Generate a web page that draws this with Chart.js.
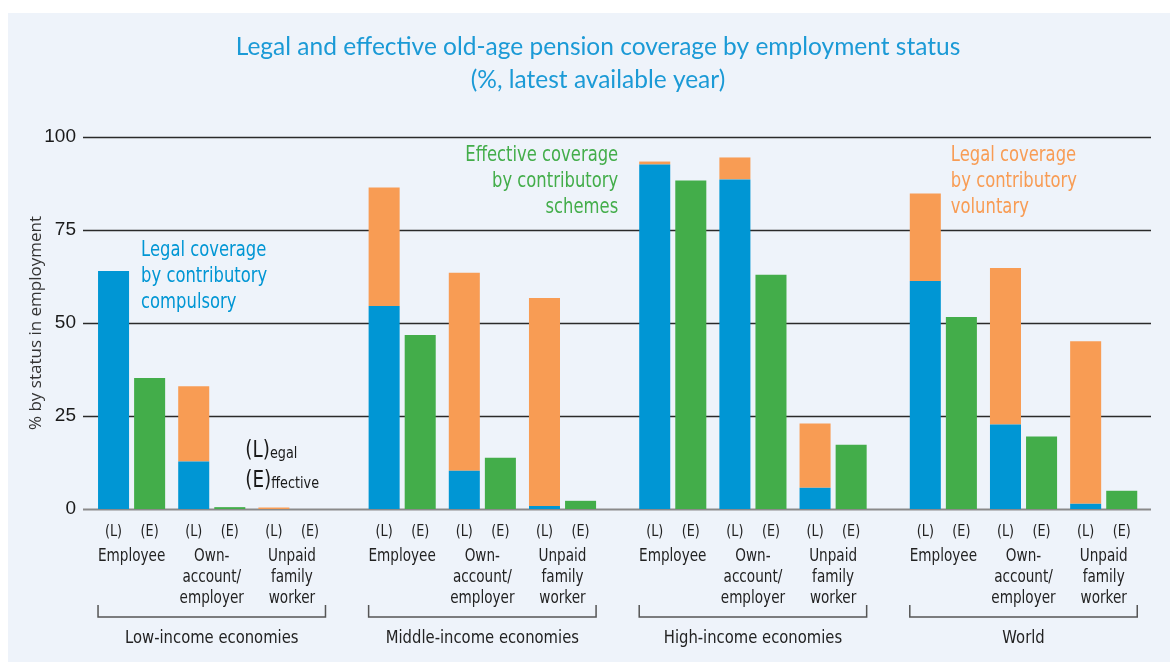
<!DOCTYPE html>
<html>
<head>
<meta charset="utf-8">
<script src="https://cdn.jsdelivr.net/npm/chart.js@4/dist/chart.umd.min.js"></script>
<style>
  html, body { margin: 0; padding: 0; background: #fff; }
  #wrap { width: 1170px; height: 662px; }
</style>
</head>
<body>
<div id="wrap"><canvas id="chart" width="1170" height="662"></canvas></div>
<script>
// categories
const TITLE = ['Legal and effective old-age pension coverage by employment status', '(%, latest available year)']
const GROUPS = ['Low-income economies', 'Middle-income economies', 'High-income economies', 'World']
const STATUSES = [['Employee'], ['Own-', 'account/', 'employer'], ['Unpaid', 'family', 'worker']]
const Y_TICKS = [0, 25, 50, 75, 100]

// values, % (order: group x status, Employee / Own-account / Unpaid)
const legalCompulsory = [64, 12.8, 0, 54.6, 10.3, 0.8, 92.6, 88.6, 5.7, 61.3, 22.7, 1.4]
const legalVoluntary = [0, 20.2, 0.4, 31.8, 53.2, 55.9, 0.8, 5.9, 17.3, 23.5, 42.1, 43.7]
const effective = [35.2, 0.5, 0, 46.8, 13.8, 2.2, 88.3, 63.0, 17.3, 51.6, 19.5, 4.9]

// colours and fonts
const BLUE = '#0096d4'
const ORANGE = '#f89c54'
const GREEN = '#43ad4a'
const PANEL = '#eef3fa'
const COND = "'DejaVu Sans', sans-serif"

// a group takes 3 status slots plus a gap
const GROUP_STEP = 3.375
const slotX = i => Math.floor(i / 3) * GROUP_STEP + (i % 3)
const toPoints = arr => arr.map((v, i) => ({ x: slotX(i), y: v }))

// condensed text: squeeze horizontally around the anchor
function condText(ctx, text, x, y, squeeze) {
  ctx.save()
  ctx.translate(x, y)
  ctx.scale(squeeze, 1)
  ctx.fillText(text, 0, 0)
  ctx.restore()
}

const panelPlugin = {
  id: 'panel',
  beforeDraw(chart) {
    const ctx = chart.ctx
    ctx.save()
    ctx.fillStyle = '#fff'
    ctx.fillRect(0, 0, chart.width, chart.height)
    ctx.fillStyle = PANEL
    ctx.fillRect(8, 13, chart.width - 8, chart.height - 13)
    ctx.fillStyle = '#1b9ad6'
    ctx.font = '24.5px Lato'
    ctx.textAlign = 'center'
    ctx.textBaseline = 'middle'
    ctx.fillText(TITLE[0], 598, 47)
    ctx.fillText(TITLE[1], 598, 80)
    ctx.restore()
  },
  // horizontal rules at the y ticks, across the x scale
  beforeDatasetsDraw(chart) {
    const ctx = chart.ctx
    const x = chart.scales.x
    const y = chart.scales.y
    ctx.save()
    Y_TICKS.forEach(v => {
      const py = Math.round(y.getPixelForValue(v)) + 0.5
      ctx.strokeStyle = v === 0 ? '#8a8a8a' : '#2a2a2a'
      ctx.lineWidth = v === 0 ? 2 : 1.3
      ctx.beginPath()
      ctx.moveTo(x.left, py)
      ctx.lineTo(x.right, py)
      ctx.stroke()
    })
    ctx.restore()
  }
}

const labelsPlugin = {
  id: 'labels',
  afterDraw(chart) {
    const ctx = chart.ctx
    const bottom = chart.chartArea.bottom
    const y = chart.scales.y
    const legal = chart.getDatasetMeta(0).data
    const eff = chart.getDatasetMeta(2).data
    const SQ = 0.8
    ctx.save()
    ctx.fillStyle = '#222'
    ctx.textAlign = 'center'
    ctx.textBaseline = 'middle'

    // (L) (E) and status names
    legal.forEach((bar, i) => {
      const e = eff[i]
      ctx.font = '16px ' + COND
      condText(ctx, '(L)', bar.x, bottom + 23, SQ)
      condText(ctx, '(E)', e.x, bottom + 23, SQ)
      ctx.font = '17px ' + COND
      STATUSES[i % 3].forEach((line, k) => condText(ctx, line, (bar.x + e.x) / 2, bottom + 48 + k * 21, SQ))
    })

    // brackets and group names
    ctx.strokeStyle = '#555'
    ctx.lineWidth = 1.5
    GROUPS.forEach((name, g) => {
      const first = legal[g * 3]
      const last = eff[g * 3 + 2]
      const x0 = first.x - first.width / 2
      const x1 = last.x + last.width / 2
      ctx.beginPath()
      ctx.moveTo(x0, bottom + 96)
      ctx.lineTo(x0, bottom + 108)
      ctx.lineTo(x1, bottom + 108)
      ctx.lineTo(x1, bottom + 96)
      ctx.stroke()
      ctx.font = '18.5px ' + COND
      condText(ctx, name, (x0 + x1) / 2, bottom + 129, SQ)
    })

    // annotations
    ctx.font = '20.5px ' + COND
    ctx.textAlign = 'left'
    ctx.fillStyle = BLUE
    const b0 = legal[0]
    ;['Legal coverage', 'by contributory', 'compulsory'].forEach((t, k) =>
      condText(ctx, t, b0.x + b0.width / 2 + 12, y.getPixelForValue(69.4 - k * 7), SQ))
    ctx.fillStyle = ORANGE
    const w0 = legal[9]
    ;['Legal coverage', 'by contributory', 'voluntary'].forEach((t, k) =>
      condText(ctx, t, w0.x + w0.width / 2 + 10, y.getPixelForValue(95.1 - k * 7), SQ))
    ctx.textAlign = 'right'
    ctx.fillStyle = GREEN
    const h0 = legal[6]
    ;['Effective coverage', 'by contributory', 'schemes'].forEach((t, k) =>
      condText(ctx, t, h0.x - h0.width / 2 - 21, y.getPixelForValue(95.1 - k * 7), SQ))

    // (L)egal / (E)ffective key
    ctx.textAlign = 'left'
    ctx.fillStyle = '#1a1a1a'
    const k0 = eff[1]
    const kx = k0.x + k0.width / 2
    ;[['(L)', 'egal', 15.5], ['(E)', 'ffective', 7.6]].forEach(([big, small, v]) => {
      const py = y.getPixelForValue(v)
      ctx.font = '23px ' + COND
      condText(ctx, big, kx, py, SQ)
      const bw = ctx.measureText(big).width * SQ
      ctx.font = '16px ' + COND
      condText(ctx, small, kx + bw, py + 3, SQ)
    })
    ctx.restore()
  }
}

const chart = new Chart(document.getElementById('chart'), {
  type: 'bar',
  data: {
    datasets: [
      { label: 'Legal, compulsory', data: toPoints(legalCompulsory), backgroundColor: BLUE, stack: 'L' },
      { label: 'Legal, voluntary', data: toPoints(legalVoluntary), backgroundColor: ORANGE, stack: 'L' },
      { label: 'Effective', data: toPoints(effective), backgroundColor: GREEN, stack: 'E' }
    ]
  },
  options: {
    responsive: false,
    animation: false,
    events: [],
    categoryPercentage: 0.9,
    barPercentage: 0.86,
    layout: { padding: { left: 26, right: 19, top: 137, bottom: 153 } },
    plugins: {
      legend: { display: false },
      tooltip: { enabled: false },
      title: { display: false }
    },
    scales: {
      x: {
        type: 'linear',
        offset: false,
        min: -0.606,
        max: 3 * GROUP_STEP + 2 + 0.59,
        afterBuildTicks: scale => {
          scale.ticks = legalCompulsory.map((v, i) => ({ value: slotX(i) }))
        },
        afterFit: scale => {
          scale.height = 0
          scale.paddingLeft = 0
          scale.paddingRight = 0
        },
        ticks: { display: false },
        grid: { display: false },
        border: { display: false }
      },
      y: {
        stacked: true,
        min: 0,
        max: 100,
        afterBuildTicks: scale => {
          scale.ticks = Y_TICKS.map(v => ({ value: v }))
        },
        afterFit: scale => { scale.width = 57 },
        ticks: { color: '#1a1a1a', padding: 7, font: { family: "'Liberation Sans', sans-serif", size: 19 } },
        grid: { display: false, drawTicks: false },
        border: { display: false },
        title: {
          display: true,
          text: '% by status in employment',
          color: '#333',
          font: { family: "'Open Sans', sans-serif", size: 17 },
          padding: { top: 0, bottom: 0 }
        }
      }
    }
  },
  plugins: [panelPlugin, labelsPlugin]
})
</script>
</body>
</html>
